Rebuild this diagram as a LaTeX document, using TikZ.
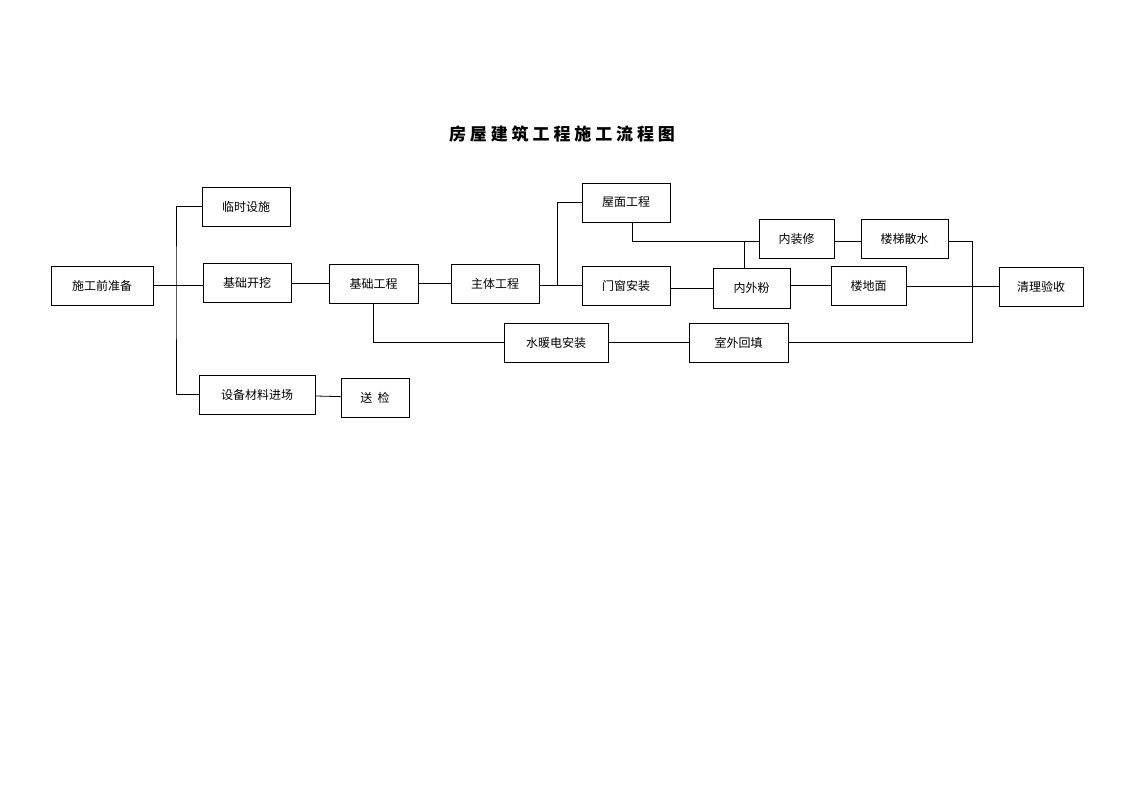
\documentclass[tikz,border=0pt]{standalone}
\usepackage{fontspec}
\setmainfont{Noto Sans CJK SC}
\usetikzlibrary{positioning}

\tikzset{
  task/.style={draw, thick, inner sep=0pt, font=\fontsize{12}{14}\selectfont},
  link/.style={draw, thick}
}

\begin{document}
\begin{tikzpicture}[x=1pt, y=-1pt]
    \useasboundingbox (0,0) rectangle (1123,794);

    % Title
    \node[font=\fontsize{17}{20}\selectfont\bfseries] (title) at (562,134) {房\ 屋\ 建\ 筑\ 工\ 程\ 施\ 工\ 流\ 程\ 图};

    % Boxes
    \node[task, minimum width=102pt, minimum height=39pt] (prep) at (102,285.5) {施工前准备};
    \node[task, minimum width=88pt, minimum height=39pt] (temp) at (246,206.5) {临时设施};
    \node[task, minimum width=88pt, minimum height=39pt] (dig) at (247,282.5) {基础开挖};
    \node[task, minimum width=116pt, minimum height=39pt] (equip) at (257,394.5) {设备材料进场};
    \node[task, minimum width=68pt, minimum height=39pt] (check) at (375,397.5) {送\ \ 检};
    \node[task, minimum width=89pt, minimum height=39pt] (found) at (373.5,283.5) {基础工程};
    \node[task, minimum width=88pt, minimum height=39pt] (main) at (495,283.5) {主体工程};
    \node[task, minimum width=104pt, minimum height=39pt] (pipe) at (556,342.5) {水暖电安装};
    \node[task, minimum width=88pt, minimum height=39pt] (roof) at (626,202.5) {屋面工程};
    \node[task, minimum width=88pt, minimum height=39pt] (door) at (626,285.5) {门窗安装};
    \node[task, minimum width=77pt, minimum height=40pt] (plaster) at (751.5,288) {内外粉};
    \node[task, minimum width=75pt, minimum height=39pt] (inner) at (796.5,238.5) {内装修};
    \node[task, minimum width=87pt, minimum height=39pt] (stair) at (904.5,238.5) {楼梯散水};
    \node[task, minimum width=75pt, minimum height=39pt] (floor) at (868.5,285.5) {楼地面};
    \node[task, minimum width=99pt, minimum height=39pt] (fill) at (738.5,342.5) {室外回填};
    \node[task, minimum width=84pt, minimum height=39pt] (clean) at (1041,286.5) {清理验收};

    % Junctions
    \coordinate (bus) at (176,285.5);
    \coordinate (split) at (557,285.5);
    \coordinate (join) at (744,241);
    \coordinate (drop) at (632,222);
    \coordinate (merge) at (972,286.5);

    % Connectors
    \draw[link] (prep) -- (bus) -- (dig.west |- bus);
    \draw[link] (temp.west) -| (bus) |- (equip.west);
    \draw[link] (equip) -- (check);
    \draw[link] (dig.east |- found) -- (found);
    \draw[link] (found) -- (main);
    \draw[link] (main.east |- split) -- (split) -- (door.west |- split);
    \draw[link] (roof.west) -| (split);
    \draw[link] (found.south) |- (pipe.west);
    \draw[link] (pipe) -- (fill);
    \draw[link] (drop) |- (inner.west |- join);
    \draw[link] (join) -- (plaster.north -| join);
    \draw[link] (door.east |- plaster) -- (plaster);
    \draw[link] (plaster.east |- floor) -- (floor);
    \draw[link] (inner.east |- join) -- (stair.west |- join);
    \draw[link] (stair.east |- join) -| (merge);
    \draw[link] (fill.east) -| (merge);
    \draw[link] (floor.east |- merge) -- (clean.west |- merge);
\end{tikzpicture}
\end{document}
